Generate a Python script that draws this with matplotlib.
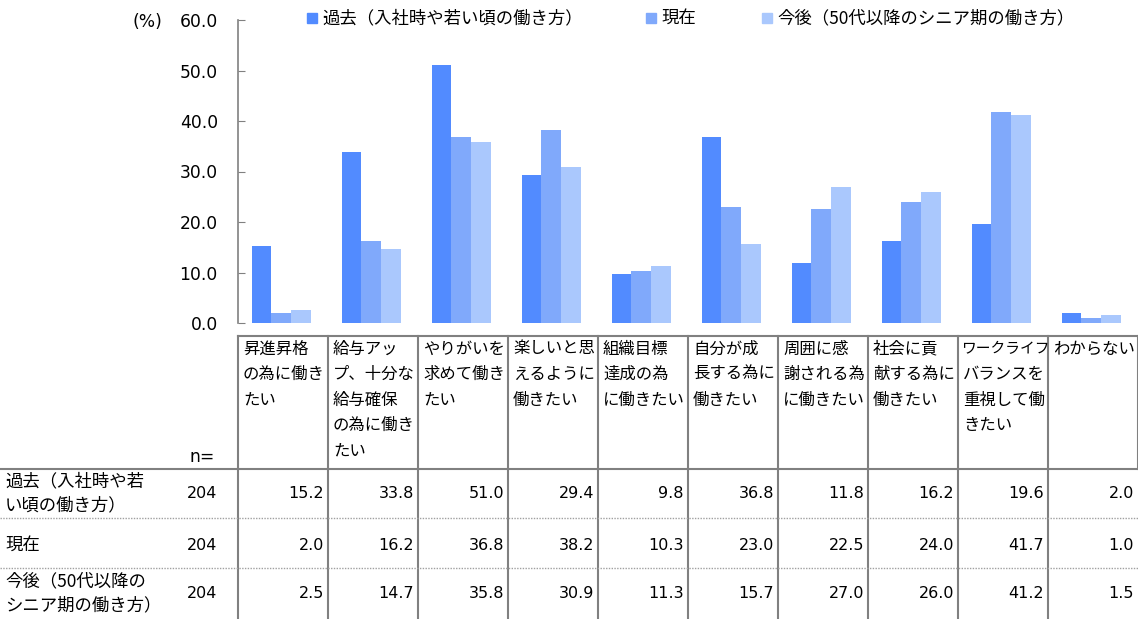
import numpy as np
import matplotlib
matplotlib.use('Agg')
import matplotlib.pyplot as plt
from matplotlib.patches import Rectangle

plt.rcParams['font.family'] = ['Noto Sans CJK JP', 'DejaVu Sans']
NUM = ['DejaVu Sans']

# data
categories = [
    ['昇進昇格', 'の為に働き', 'たい'],
    ['給与アッ', 'プ、十分な', '給与確保', 'の為に働き', 'たい'],
    ['やりがいを', '求めて働き', 'たい'],
    ['楽しいと思', 'えるように', '働きたい'],
    ['組織目標', '達成の為', 'に働きたい'],
    ['自分が成', '長する為に', '働きたい'],
    ['周囲に感', '謝される為', 'に働きたい'],
    ['社会に貢', '献する為に', '働きたい'],
    ['ワークライフ', 'バランスを', '重視して働', 'きたい'],
    ['わからない'],
]
series_names = ['過去（入社時や若い頃の働き方）', '現在', '今後（50代以降のシニア期の働き方）']
row_labels = [['過去（入社時や若', 'い頃の働き方）'], ['現在'], ['今後（50代以降の', 'シニア期の働き方）']]
n_values = [204, 204, 204]
past = [15.2, 33.8, 51.0, 29.4, 9.8, 36.8, 11.8, 16.2, 19.6, 2.0]
now = [2.0, 16.2, 36.8, 38.2, 10.3, 23.0, 22.5, 24.0, 41.7, 1.0]
future = [2.5, 14.7, 35.8, 30.9, 11.3, 15.7, 27.0, 26.0, 41.2, 1.5]
colors = ['#528bff', '#80a9fb', '#aac8fd']

W, H = 1138, 619
fig = plt.figure(figsize=(W / 100, H / 100), dpi=100)

# bar chart
x0, x1 = 238, 1138
ytop, ybot = 20, 323
ax = fig.add_axes([x0 / W, 1 - ybot / H, (x1 - x0) / W, (ybot - ytop) / H])
x = np.arange(len(past))
bw = 0.22
for k, vals in enumerate([past, now, future]):
    ax.bar(x + (k - 1) * bw - 0.02, vals, bw, color=colors[k], label=series_names[k])
ax.set_xlim(-0.5, len(past) - 0.5)
ax.set_ylim(0, 60)
ax.set_yticks(np.arange(0, 61, 10))
ax.set_yticklabels([f'{v:.1f}' for v in np.arange(0, 61, 10)], fontsize=12.3, family=NUM)
ax.tick_params(axis='y', direction='in', length=5, color='#808080', pad=14.5)
ax.set_xticks([])
for s in ['top', 'right', 'bottom']:
    ax.spines[s].set_visible(False)
ax.spines['left'].set_color('#808080')
ax.spines['left'].set_linewidth(1.2)

# overlay in pixel coords for table & legend
ov = fig.add_axes([0, 0, 1, 1])
ov.set_xlim(0, W)
ov.set_ylim(H, 0)
ov.axis('off')

ov.text(147, 22, '(%)', fontsize=12.3, ha='center', va='center', family=NUM)

# legend
leg_x = [307, 646, 762]
for lx, name, c in zip(leg_x, series_names, colors):
    ov.add_patch(Rectangle((lx, 13), 10, 10, color=c))
    ov.text(lx + 15, 18, name, fontsize=12.5, va='center', ha='left')

# table
cw = (x1 - x0) / len(past)
edges = [x0 + i * cw for i in range(len(past) + 1)]
lc = '#808080'
ov.plot([x0, x1], [336, 336], color=lc, lw=1.5)
ov.plot([0, x1], [469, 469], color=lc, lw=1.5)
for e in edges:
    ov.plot([e, e], [336, 469], color=lc, lw=1.5)
    if e < x1 - 5:
        ov.plot([e, e], [469, H], color=lc, lw=1.5)
for yy in [518, 568]:
    ov.plot([0, x1], [yy, yy], color='#a0a0a0', lw=1, ls=(0, (1, 1)))

hfs = 11.8
renderer = fig.canvas.get_renderer()
for i, lines in enumerate(categories):
    for j, ln in enumerate(lines):
        t = ov.text(edges[i] + 5, 349 + j * 25.5, ln, fontsize=hfs, ha='left', va='center')
        wpx = t.get_window_extent(renderer).width
        if wpx > cw - 2:
            # squeeze the long katakana line a little
            t.set_x(edges[i] + 3)
            t.set_fontsize(max(10.6, hfs * (cw - 5) / wpx))

ov.text(190, 457, 'n=', fontsize=12.3, ha='left', va='center', family=NUM)

row_centers = [493, 545, 593]
for r, (lab, nv, vals) in enumerate(zip(row_labels, n_values, [past, now, future])):
    yc = row_centers[r]
    if len(lab) == 1:
        ov.text(5, yc, lab[0], fontsize=12.5, ha='left', va='center')
    else:
        ov.text(5, yc - 12, lab[0], fontsize=12.5, ha='left', va='center')
        ov.text(5, yc + 12, lab[1], fontsize=12.5, ha='left', va='center')
    ov.text(217, yc, str(nv), fontsize=11.5, ha='right', va='center', family=NUM)
    for i, v in enumerate(vals):
        ov.text(edges[i + 1] - 4, yc, f'{v:.1f}', fontsize=11.5, ha='right', va='center', family=NUM)

fig.savefig('out.png', dpi=100)
